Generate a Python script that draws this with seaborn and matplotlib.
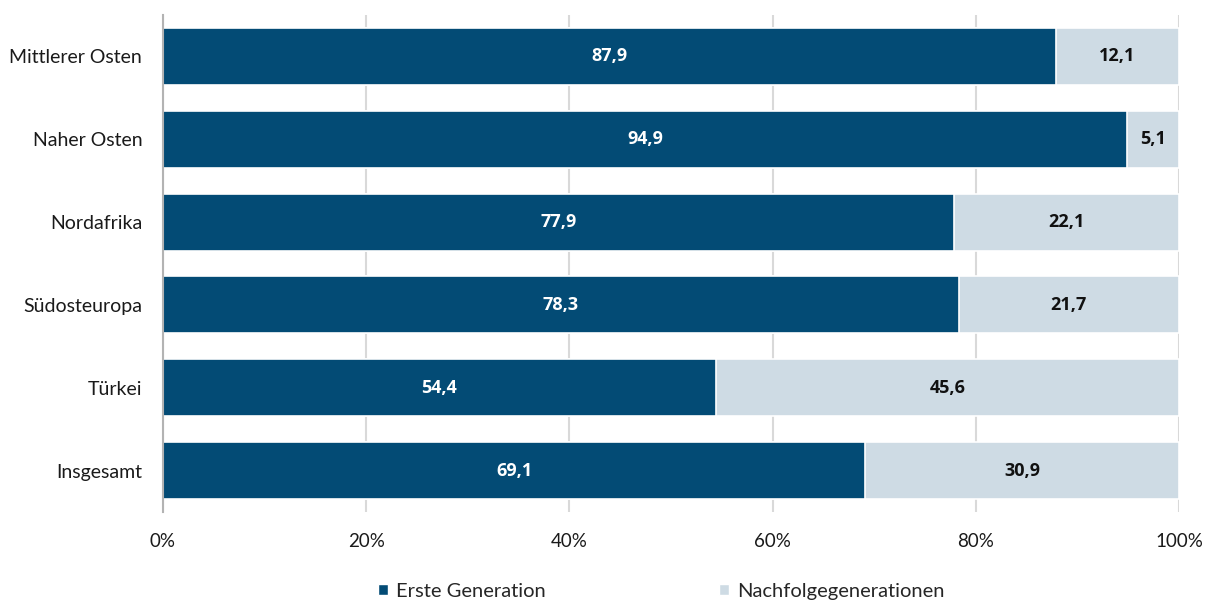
import matplotlib
matplotlib.use("Agg")
import matplotlib.pyplot as plt
import seaborn as sns
import pandas as pd
from matplotlib.patches import Patch

categories = ["Mittlerer Osten", "Naher Osten", "Nordafrika", "Südosteuropa", "Türkei", "Insgesamt"]
erste = [87.9, 94.9, 77.9, 78.3, 54.4, 69.1]
nachfolge = [12.1, 5.1, 22.1, 21.7, 45.6, 30.9]
series_names = ["Erste Generation", "Nachfolgegenerationen"]
xticks = [0, 20, 40, 60, 80, 100]

dark = "#034b75"
light = "#cedbe4"

sns.set_theme(style="white")
plt.rcParams["font.family"] = ["Lato", "DejaVu Sans"]

df = pd.DataFrame({"cat": categories, "erste": erste, "nachfolge": nachfolge})
df["total"] = df["erste"] + df["nachfolge"]

fig = plt.figure(figsize=(12.14, 6.02), dpi=100)
ax = fig.add_axes([163/1214, 1 - 512/602, 1016/1214, 497/602])

sns.barplot(data=df, y="cat", x="total", color=light, orient="h", width=0.69, saturation=1,
            edgecolor="white", linewidth=1.2, ax=ax, zorder=2)
sns.barplot(data=df, y="cat", x="erste", color=dark, orient="h", width=0.69, saturation=1,
            edgecolor="white", linewidth=1.2, ax=ax, zorder=3)

for i, (a, b) in enumerate(zip(erste, nachfolge)):
    ax.text(a / 2, i, f"{a:.1f}".replace(".", ","), ha="center", va="center",
            color="white", fontsize=13, fontweight="bold", family=["Open Sans", "DejaVu Sans"], zorder=4)
    ax.text(a + b / 2, i, f"{b:.1f}".replace(".", ","), ha="center", va="center",
            color="#111111", fontsize=13, fontweight="bold", family=["Open Sans", "DejaVu Sans"], zorder=4)

ax.set_xlim(0, 100)
ax.set_ylim(5.5, -0.5)
ax.set_xticks(xticks)
ax.set_xticklabels([f"{t}%" for t in xticks], fontsize=13.5, color="#1a1a1a")
ax.tick_params(axis="y", labelsize=14, labelcolor="#1a1a1a", length=0, pad=15)
ax.tick_params(axis="x", length=0, pad=15)
ax.set_xlabel("")
ax.set_ylabel("")
ax.xaxis.grid(True, color="#d9d9d9", linewidth=1.5, zorder=0)
ax.set_axisbelow(True)
for s in ["top", "right", "bottom"]:
    ax.spines[s].set_visible(False)
ax.spines["left"].set_color("#b3b3b3")
ax.spines["left"].set_linewidth(1.5)
ax.spines["left"].set_zorder(5)

handles = [Patch(facecolor=dark, label=series_names[0]), Patch(facecolor=light, label=series_names[1])]
fig.legend(handles=handles, loc="center", bbox_to_anchor=(0.545, 0.018), ncol=2, frameon=False,
           fontsize=14.5, handlelength=0.5, handleheight=0.5, handletextpad=0.4, columnspacing=8.6)

fig.savefig("out.png", dpi=100)
